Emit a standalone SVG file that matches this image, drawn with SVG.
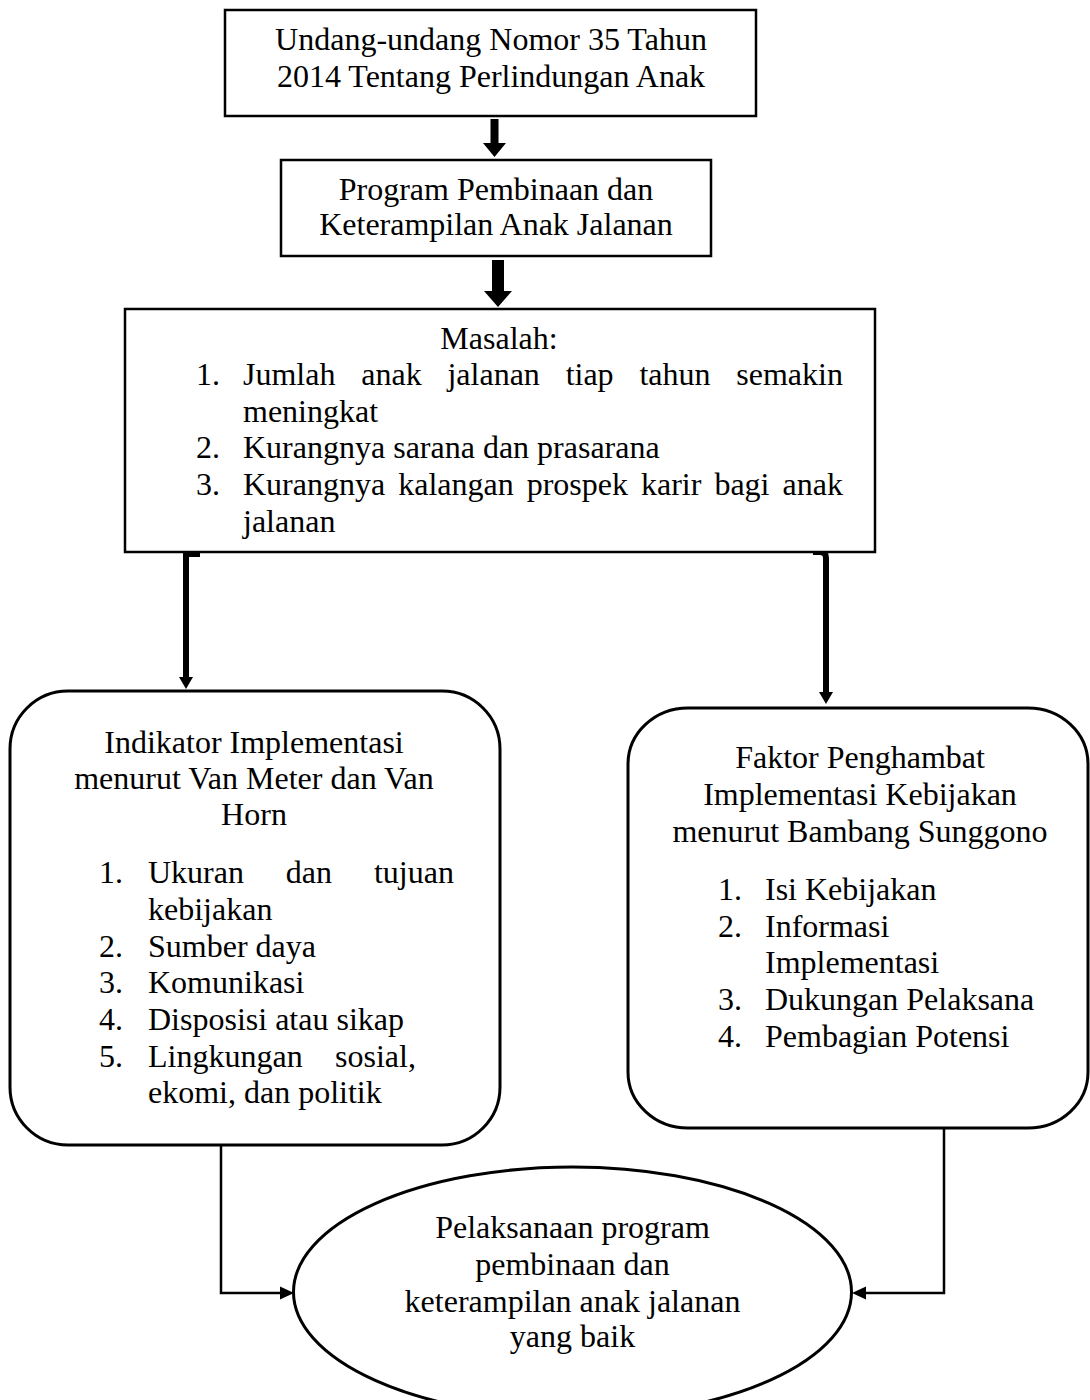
<svg xmlns="http://www.w3.org/2000/svg" width="1090" height="1400" viewBox="0 0 1090 1400">
<style>
text{font-family:"Liberation Serif","Times New Roman",serif;font-size:32px;fill:#000}
.c{text-anchor:middle}
.box{fill:#fff;stroke:#000;stroke-width:2.5}
.rbox{fill:#fff;stroke:#000;stroke-width:3}
.thick{fill:none;stroke:#000;stroke-width:6}
.thin{fill:none;stroke:#000;stroke-width:2.5}
</style>
<defs>
<marker id="ah" viewBox="0 0 10 10" refX="10" refY="5" markerWidth="5" markerHeight="5" markerUnits="userSpaceOnUse" orient="auto">
<path d="M0,0 L10,5 L0,10 z" fill="#000"/>
</marker>
</defs>
<rect width="1090" height="1400" fill="#fff"/>

<g id="connectors">
<polygon points="490.5,119 498.5,119 498.5,143 506,143 494.5,157 483,143 490.5,143" fill="#000"/>
<polygon points="492,260 504,260 504,291 512,291 498,307 484,291 492,291" fill="#000"/>
<rect x="186" y="552" width="14" height="5" fill="#000"/>
<path d="M186,552 V677" class="thick"/>
<polygon points="179,677 193,677 186,689" fill="#000"/>
<path d="M813,552 H820 Q826,552 826,558 V693" class="thick"/>
<polygon points="819,692 833,692 826,704" fill="#000"/>
<path d="M221,1145 V1293 H281" class="thin"/>
<polygon points="280,1286.5 294,1293 280,1299.5" fill="#000"/>
<path d="M944,1128 V1293 H865" class="thin"/>
<polygon points="866,1286.5 852,1293 866,1299.5" fill="#000"/>
</g>

<g id="node-uu">
<rect x="225" y="10" width="531" height="106" class="box"/>
<text x="491" y="50" class="c">Undang-undang Nomor 35 Tahun</text>
<text x="491" y="87" class="c">2014 Tentang Perlindungan Anak</text>
</g>

<g id="node-program">
<rect x="281" y="160" width="430" height="96" class="box"/>
<text x="496" y="200" class="c">Program Pembinaan dan</text>
<text x="496" y="235" class="c">Keterampilan Anak Jalanan</text>
</g>

<g id="node-masalah">
<rect x="125" y="309" width="750" height="243" class="box"/>
<text x="499" y="349" class="c">Masalah:</text>
<text x="196" y="385">1.</text>
<text x="243" y="385" style="word-spacing:17.8px">Jumlah anak jalanan tiap tahun semakin</text>
<text x="243" y="422">meningkat</text>
<text x="196" y="458">2.</text>
<text x="243" y="458">Kurangnya sarana dan prasarana</text>
<text x="196" y="495">3.</text>
<text x="243" y="495" style="word-spacing:5px">Kurangnya kalangan prospek karir bagi anak</text>
<text x="243" y="532">jalanan</text>
</g>

<g id="node-indikator">
<rect x="10" y="691" width="490" height="454" rx="58" ry="58" class="rbox"/>
<text x="254" y="753" class="c">Indikator Implementasi</text>
<text x="254" y="789" class="c">menurut Van Meter dan Van</text>
<text x="254" y="825" class="c">Horn</text>
<text x="99" y="883">1.</text>
<text x="148" y="883" style="word-spacing:33.9px">Ukuran dan tujuan</text>
<text x="148" y="920">kebijakan</text>
<text x="99" y="957">2.</text>
<text x="148" y="957">Sumber daya</text>
<text x="99" y="993">3.</text>
<text x="148" y="993">Komunikasi</text>
<text x="99" y="1030">4.</text>
<text x="148" y="1030">Disposisi atau sikap</text>
<text x="99" y="1067">5.</text>
<text x="148" y="1067" style="word-spacing:24.4px">Lingkungan sosial,</text>
<text x="148" y="1103">ekomi, dan politik</text>
</g>

<g id="node-faktor">
<rect x="628" y="708" width="460" height="420" rx="60" ry="56" class="rbox"/>
<text x="860" y="768" class="c">Faktor Penghambat</text>
<text x="860" y="805" class="c">Implementasi Kebijakan</text>
<text x="860" y="842" class="c">menurut Bambang Sunggono</text>
<text x="718" y="900">1.</text>
<text x="765" y="900">Isi Kebijakan</text>
<text x="718" y="937">2.</text>
<text x="765" y="937">Informasi</text>
<text x="765" y="973">Implementasi</text>
<text x="718" y="1010">3.</text>
<text x="765" y="1010">Dukungan Pelaksana</text>
<text x="718" y="1047">4.</text>
<text x="765" y="1047">Pembagian Potensi</text>
</g>

<g id="node-pelaksanaan">
<ellipse cx="572.5" cy="1292" rx="279" ry="125" class="rbox"/>
<text x="572.5" y="1238" class="c">Pelaksanaan program</text>
<text x="572.5" y="1275" class="c">pembinaan dan</text>
<text x="572.5" y="1312" class="c">keterampilan anak jalanan</text>
<text x="572.5" y="1347" class="c">yang baik</text>
</g>
</svg>
